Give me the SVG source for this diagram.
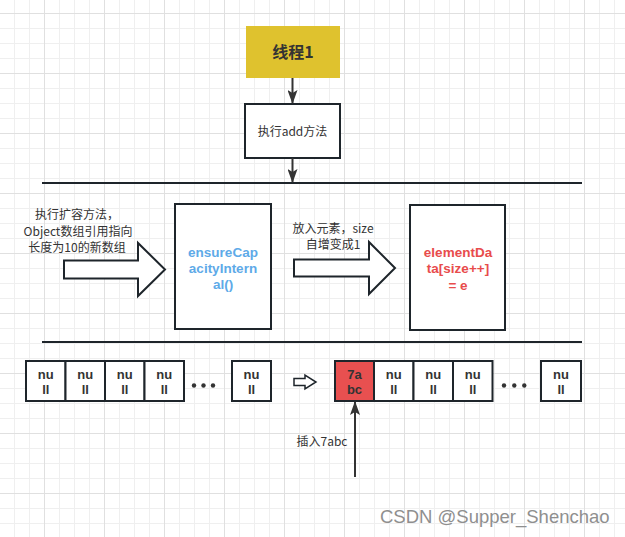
<svg xmlns="http://www.w3.org/2000/svg" width="625" height="537" viewBox="0 0 625 537">
<defs>
<pattern id="grid" patternUnits="userSpaceOnUse" x="44" y="13" width="60" height="60">
<rect x="15" y="0" width="1" height="60" fill="#efefef"/>
<rect x="30" y="0" width="1" height="60" fill="#efefef"/>
<rect x="45" y="0" width="1" height="60" fill="#efefef"/>
<rect x="0" y="15" width="60" height="1" fill="#efefef"/>
<rect x="0" y="30" width="60" height="1" fill="#efefef"/>
<rect x="0" y="45" width="60" height="1" fill="#efefef"/>
<rect x="0" y="0" width="1" height="60" fill="#e0e0e0"/>
<rect x="0" y="0" width="60" height="1" fill="#e0e0e0"/>
</pattern>
<marker id="ah" markerUnits="userSpaceOnUse" viewBox="0 0 14 10" refX="13" refY="5" markerWidth="14" markerHeight="10" orient="auto">
<path d="M0,0 L14,5 L0,10 L3,5 z" fill="#333"/>
</marker>
<style>
.box{fill:#fff;stroke:#1e252b;stroke-width:2}
.cell{fill:#fff;stroke:#1e252b;stroke-width:2}
.bar{stroke:#1e252b;stroke-width:2}
.conn{stroke:#333;stroke-width:2;fill:none}
.lbl{font-family:"Noto Sans CJK SC","Liberation Sans",sans-serif;font-size:12px;fill:#333;text-anchor:middle}
.bold{font-family:"Noto Sans CJK SC","Liberation Sans",sans-serif;font-weight:bold;text-anchor:middle}
.lat{font-family:"Liberation Sans",Arial,sans-serif;font-weight:bold;font-size:13.5px;text-anchor:middle}
.ctext{font-family:"Liberation Sans",Arial,sans-serif;font-weight:bold;font-size:13px;fill:#333;text-anchor:middle}
.dot{fill:#333}
.barrow{fill:#fff;stroke:#1e252b;stroke-width:2;stroke-linejoin:miter}
</style>
</defs>
<rect x="0" y="0" width="625" height="537" fill="#fff"/>
<rect x="0" y="0" width="625" height="537" fill="url(#grid)"/>

<g id="separators">
<line class="bar" x1="42" y1="183" x2="582" y2="183"/>
<line class="bar" x1="42" y1="342" x2="582" y2="342"/>
</g>

<g id="thread1">
<rect x="246" y="26" width="94" height="52" fill="#dfc22e"/>
<text class="bold" x="293" y="58" font-size="16" fill="#333">线程1</text>
</g>

<g id="add-method">
<rect class="box" x="245" y="104" width="95" height="54"/>
<text class="lbl" x="292.5" y="136" font-size="13">执行add方法</text>
</g>

<g id="label-grow">
<text class="lbl" x="77" y="219">执行扩容方法，</text>
<text class="lbl" x="78" y="236">Object数组引用指向</text>
<text class="lbl" x="77" y="252">长度为10的新数组</text>
</g>

<g id="block-arrow-1">
<polygon class="barrow" points="64,260.5 138,260.5 138,243 165,269.5 138,296 138,278.5 64,278.5"/>
</g>

<g id="ensure-capacity">
<rect class="box" x="175" y="204" width="96" height="125"/>
<text class="lat" fill="#5eaae8" x="223" y="256.5">ensureCap</text>
<text class="lat" fill="#5eaae8" x="223" y="272.5">acityIntern</text>
<text class="lat" fill="#5eaae8" x="223" y="288.5">al()</text>
</g>

<g id="label-put">
<text class="lbl" x="333" y="233">放入元素，size</text>
<text class="lbl" x="333" y="249">自增变成1</text>
</g>

<g id="block-arrow-2">
<polygon class="barrow" points="294,259.5 369,259.5 369,242 395,268 369,294 369,276.5 294,276.5"/>
</g>

<g id="element-data">
<rect class="box" x="410" y="205" width="95" height="125"/>
<text class="lat" fill="#e84c4c" x="458" y="257">elementDa</text>
<text class="lat" fill="#e84c4c" x="458" y="273">ta[size++]</text>
<text class="lat" fill="#e84c4c" x="458" y="290">= e</text>
</g>

<g id="array-before">
<rect class="cell" x="26" y="361" width="39.5" height="40"/>
<rect class="cell" x="65.5" y="361" width="39.5" height="40"/>
<rect class="cell" x="105" y="361" width="39.5" height="40"/>
<rect class="cell" x="144.5" y="361" width="39.5" height="40"/>
<rect class="cell" x="232" y="361" width="39" height="40"/>
<text class="ctext" x="45.75" y="378.5">nu</text><text class="ctext" x="45.75" y="393.5">ll</text>
<text class="ctext" x="85.25" y="378.5">nu</text><text class="ctext" x="85.25" y="393.5">ll</text>
<text class="ctext" x="124.75" y="378.5">nu</text><text class="ctext" x="124.75" y="393.5">ll</text>
<text class="ctext" x="164.25" y="378.5">nu</text><text class="ctext" x="164.25" y="393.5">ll</text>
<text class="ctext" x="251.5" y="378.5">nu</text><text class="ctext" x="251.5" y="393.5">ll</text>
<circle class="dot" cx="194" cy="385.5" r="2.2"/>
<circle class="dot" cx="203.5" cy="385.5" r="2.2"/>
<circle class="dot" cx="213" cy="385.5" r="2.2"/>
</g>

<g id="small-arrow">
<polygon points="294,378.5 305,378.5 305,375 316,382 305,389 305,385.5 294,385.5" fill="#fff" stroke="#1e252b" stroke-width="1.5"/>
</g>

<g id="array-after">
<rect x="335" y="361" width="39" height="40" fill="#e85050" stroke="#1e252b" stroke-width="2"/>
<rect class="cell" x="374" y="361" width="39.5" height="40"/>
<rect class="cell" x="413.5" y="361" width="39.5" height="40"/>
<rect class="cell" x="453" y="361" width="39.5" height="40"/>
<rect class="cell" x="541" y="361" width="40" height="40"/>
<text class="ctext" x="354.5" y="378.5">7a</text><text class="ctext" x="354.5" y="393.5">bc</text>
<text class="ctext" x="393.75" y="378.5">nu</text><text class="ctext" x="393.75" y="393.5">ll</text>
<text class="ctext" x="433.25" y="378.5">nu</text><text class="ctext" x="433.25" y="393.5">ll</text>
<text class="ctext" x="472.75" y="378.5">nu</text><text class="ctext" x="472.75" y="393.5">ll</text>
<text class="ctext" x="561" y="378.5">nu</text><text class="ctext" x="561" y="393.5">ll</text>
<circle class="dot" cx="504" cy="385.5" r="2.2"/>
<circle class="dot" cx="514.3" cy="385.5" r="2.2"/>
<circle class="dot" cx="524.3" cy="385.5" r="2.2"/>
</g>

<g id="label-insert">
<text class="lbl" x="322" y="446" font-size="13">插入7abc</text>
</g>

<g id="connectors">
<line class="conn" x1="292.5" y1="78" x2="292.5" y2="103" marker-end="url(#ah)"/>
<line class="conn" x1="292.5" y1="158" x2="292.5" y2="182" marker-end="url(#ah)"/>
<line class="conn" x1="355" y1="477" x2="355" y2="402" marker-end="url(#ah)"/>
</g>

<g id="watermark">
<text x="380" y="523" font-family="Liberation Sans, Arial, sans-serif" font-size="18.5" fill="#8f8f8f">CSDN @Supper_Shenchao</text>
</g>
</svg>
